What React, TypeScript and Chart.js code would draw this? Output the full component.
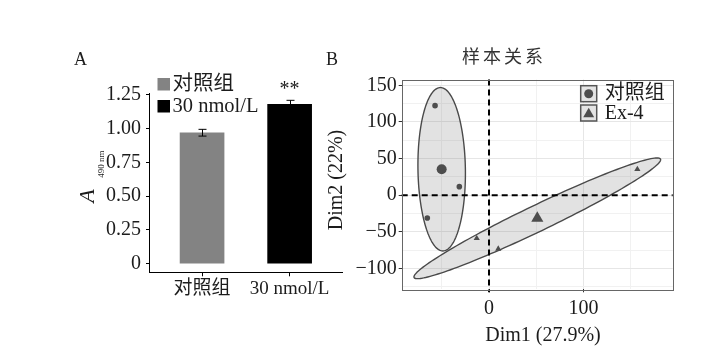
import React, { useEffect, useRef } from "react";
import { Chart, registerables } from "chart.js";

Chart.register(...registerables);

const W = 722;
const H = 361;
const FONT = "'Liberation Serif', 'Noto Sans CJK SC', serif";
const TEXT = "#1c1c1c";
const PT = "#4d4d4d";

// ---------- Panel A data ----------
const groupsA = ["对照组", "30 nmol/L"];
const meansA = [0.97, 1.18];
const errorsA = [0.025, 0.03];
const barColorsA = ["#838383", "#000000"];
const signifA = ["", "**"];
const yTicksA = [0, 0.25, 0.5, 0.75, 1.0, 1.25];
const yTickLabelsA = ["0", "0.25", "0.50", "0.75", "1.00", "1.25"];

// ---------- Panel B data ----------
const titleB = "样本关系";
const groupNamesB = ["对照组", "Ex-4"];
const ctrlDim1 = [-57.1, -31.4, -65.3];
const ctrlDim2 = [122.3, 11.6, -31.1];
const exDim1 = [-13.0, 9.8, 157.0];
const exDim2 = [-58.9, -73.5, 35.4];
const centroidDim1 = [-50.1, 51.1];
const centroidDim2 = [35.4, -31.6];
const ellipseMajorB = [[-1.3, 111.6], [130.4, 80.9]];
const ellipseMinorB = [[25.1, 0.0], [5.96, -16.0]];
const xTicksB = [-50, 0, 50, 100, 150];
const xTickLabelsB = ["", "0", "", "100", ""];
const yTicksB = [-125, -100, -75, -50, -25, 0, 25, 50, 75, 100, 125, 150];
const yTickLabelsB = ["", "−100", "", "−50", "", "0", "", "50", "", "100", "", "150"];

const YAXIS_W = 70;

const panelAPlugin = {
  id: "panelA",
  afterDatasetsDraw(chart: any) {
    const { ctx, chartArea: ca, scales } = chart;
    const x = scales.x;
    const y = scales.y;
    ctx.save();
    ctx.strokeStyle = "#000";
    ctx.lineWidth = 1;
    meansA.forEach((m, i) => {
      const px = Math.round(x.getPixelForValue(i)) + 0.5;
      const top = y.getPixelForValue(m + errorsA[i]);
      const bot = y.getPixelForValue(m - errorsA[i]);
      ctx.beginPath();
      ctx.moveTo(px, top);
      ctx.lineTo(px, bot);
      ctx.moveTo(px - 4, top);
      ctx.lineTo(px + 4, top);
      ctx.moveTo(px - 4, bot);
      ctx.lineTo(px + 4, bot);
      ctx.stroke();
      if (signifA[i]) {
        ctx.font = `20px ${FONT}`;
        ctx.textAlign = "center";
        ctx.textBaseline = "alphabetic";
        ctx.fillStyle = TEXT;
        ctx.fillText(signifA[i], px - 1, top - 5);
      }
    });
    // legend
    const lx = ca.left + 8.5;
    const keyTops = [ca.top - 15.3, ca.top + 6.7];
    ctx.font = `20.5px ${FONT}`;
    ctx.textAlign = "left";
    ctx.textBaseline = "middle";
    groupsA.forEach((g, i) => {
      ctx.fillStyle = barColorsA[i];
      ctx.fillRect(lx, keyTops[i], 12.5, 12.5);
      ctx.fillStyle = TEXT;
      ctx.fillText(g, lx + 15, keyTops[i] + 7);
    });
    // y title: A with subscript 490 nm
    ctx.save();
    ctx.translate(ca.left - 55, (ca.top + ca.bottom) / 2 + 20);
    ctx.rotate(-Math.PI / 2);
    ctx.textBaseline = "alphabetic";
    ctx.textAlign = "left";
    ctx.font = `italic 22px ${FONT}`;
    ctx.fillText("A", 0, 0);
    ctx.font = `9px ${FONT}`;
    ctx.fillText("490 nm", 25, 10);
    ctx.restore();
    // panel letters
    ctx.font = `18px ${FONT}`;
    ctx.textAlign = "left";
    ctx.textBaseline = "alphabetic";
    ctx.fillText("A", 74, 65);
    ctx.fillText("B", 326, 65);
    ctx.restore();
  },
};

const panelBPlugin = {
  id: "panelB",
  beforeDatasetsDraw(chart: any) {
    const { ctx, chartArea: ca, scales } = chart;
    const x = scales.x;
    const y = scales.y;
    ctx.save();
    ctx.beginPath();
    ctx.rect(ca.left, ca.top, ca.width, ca.height);
    ctx.clip();
    for (let g = 0; g < 2; g++) {
      const cx = centroidDim1[g];
      const cy = centroidDim2[g];
      const u = ellipseMajorB[g];
      const v = ellipseMinorB[g];
      ctx.beginPath();
      const n = 160;
      for (let k = 0; k <= n; k++) {
        const t = (2 * Math.PI * k) / n;
        const dx = cx + u[0] * Math.cos(t) + v[0] * Math.sin(t);
        const dy = cy + u[1] * Math.cos(t) + v[1] * Math.sin(t);
        const px = x.getPixelForValue(dx);
        const py = y.getPixelForValue(dy);
        if (k === 0) ctx.moveTo(px, py);
        else ctx.lineTo(px, py);
      }
      ctx.closePath();
      ctx.fillStyle = "rgba(110,110,110,0.2)";
      ctx.fill();
      ctx.strokeStyle = "#4a4a4a";
      ctx.lineWidth = 1.4;
      ctx.stroke();
    }
    ctx.restore();
    // dashed reference lines
    ctx.save();
    ctx.setLineDash([6, 4]);
    ctx.strokeStyle = "#000";
    ctx.lineWidth = 2;
    const x0 = x.getPixelForValue(0);
    const y0 = y.getPixelForValue(0);
    ctx.beginPath();
    ctx.moveTo(x0, ca.top);
    ctx.lineTo(x0, ca.bottom + 3);
    ctx.moveTo(ca.left, y0);
    ctx.lineTo(ca.right, y0);
    ctx.stroke();
    ctx.restore();
  },
  afterDraw(chart: any) {
    const { ctx, chartArea: ca } = chart;
    ctx.save();
    // panel border
    ctx.strokeStyle = "#666";
    ctx.lineWidth = 1;
    ctx.strokeRect(Math.round(ca.left) + 0.5, Math.round(ca.top) + 0.5, Math.round(ca.width), Math.round(ca.height));
    // legend
    const kx = ca.right - 92;
    const keyTops = [ca.top + 6.2, ca.top + 25.5];
    ctx.font = `20px ${FONT}`;
    ctx.textAlign = "left";
    ctx.textBaseline = "middle";
    groupNamesB.forEach((g, i) => {
      const top = keyTops[i];
      ctx.fillStyle = "#e4e4e4";
      ctx.fillRect(kx, top, 16, 16);
      ctx.strokeStyle = "#555";
      ctx.lineWidth = 1.5;
      ctx.strokeRect(kx, top, 16, 16);
      ctx.fillStyle = PT;
      const cx = kx + 8;
      const cy = top + 8;
      ctx.beginPath();
      if (i === 0) {
        ctx.arc(cx, cy, 4.5, 0, Math.PI * 2);
      } else {
        const r = 6.3;
        ctx.moveTo(cx, cy - r + 1);
        ctx.lineTo(cx + r * 0.866, cy + r * 0.5 + 1);
        ctx.lineTo(cx - r * 0.866, cy + r * 0.5 + 1);
        ctx.closePath();
      }
      ctx.fill();
      ctx.fillStyle = TEXT;
      ctx.fillText(g, kx + 24, top + 8.5);
    });
    // title
    ctx.fillStyle = "#333";
    ctx.font = `18px ${FONT}`;
    ctx.textAlign = "center";
    ctx.textBaseline = "middle";
    (ctx as any).letterSpacing = "3px";
    ctx.fillText(titleB, 504, 58.5);
    (ctx as any).letterSpacing = "0px";
    // axis titles
    ctx.fillStyle = TEXT;
    ctx.font = `20px ${FONT}`;
    ctx.fillText("Dim1 (27.9%)", 543, 336);
    ctx.save();
    ctx.translate(337, 180);
    ctx.rotate(-Math.PI / 2);
    ctx.fillText("Dim2 (22%)", 0, 0);
    ctx.restore();
    ctx.restore();
  },
};

function makeConfigA(): any {
  return {
    type: "bar",
    data: {
      datasets: groupsA.map((g, i) => ({
        label: g,
        data: [{ x: i, y: meansA[i] }],
        backgroundColor: barColorsA[i],
        borderWidth: 0,
        barThickness: 44,
      })),
    },
    options: {
      animation: false,
      responsive: false,
      devicePixelRatio: 1,
      layout: { padding: { left: 149 - YAXIS_W, right: W - 342.7, top: 93.3, bottom: H - 272.3 - 30 } },
      datasets: { bar: { grouped: false } },
      plugins: { legend: { display: false }, tooltip: { enabled: false } },
      scales: {
        x: {
          type: "linear",
          offset: false,
          min: -0.606,
          max: 1.606,
          afterBuildTicks: (s: any) => {
            s.ticks = groupsA.map((_, i) => ({ value: i }));
          },
          afterFit: (s: any) => {
            s.height = 30;
          },
          ticks: {
            callback: (_v: any, i: number) => groupsA[i],
            font: { family: FONT, size: 19 },
            color: TEXT,
            padding: 1,
            maxRotation: 0,
            autoSkip: false,
          },
          grid: { offset: false, drawOnChartArea: false, drawTicks: true, tickLength: 4, color: "#000" },
          border: { display: true, color: "#000", width: 1 },
        },
        y: {
          type: "linear",
          min: -0.064,
          max: 1.262,
          afterBuildTicks: (s: any) => {
            s.ticks = yTicksA.map((v) => ({ value: v }));
          },
          afterFit: (s: any) => {
            s.width = YAXIS_W;
          },
          ticks: {
            callback: (_v: any, i: number) => yTickLabelsA[i],
            font: { family: FONT, size: 20 },
            color: TEXT,
            padding: 5,
          },
          grid: { drawOnChartArea: false, drawTicks: true, tickLength: 3, color: "#000" },
          border: { display: true, color: "#000", width: 1 },
        },
      },
    },
    plugins: [panelAPlugin],
  };
}

function makeConfigB(): any {
  const majorX = (v: number) => xTickLabelsB[xTicksB.indexOf(v)] !== "";
  const majorY = (v: number) => yTickLabelsB[yTicksB.indexOf(v)] !== "";
  return {
    type: "scatter",
    data: {
      datasets: [
        {
          label: groupNamesB[0],
          data: ctrlDim1.map((v, i) => ({ x: v, y: ctrlDim2[i] })),
          pointStyle: "circle",
          pointRadius: 2.8,
          backgroundColor: PT,
          borderColor: PT,
          borderWidth: 0,
        },
        {
          label: groupNamesB[1],
          data: exDim1.map((v, i) => ({ x: v, y: exDim2[i] })),
          pointStyle: "triangle",
          pointRadius: 3.6,
          backgroundColor: PT,
          borderColor: PT,
          borderWidth: 0,
        },
        {
          label: groupNamesB[0] + " centroid",
          data: [{ x: centroidDim1[0], y: centroidDim2[0] }],
          pointStyle: "circle",
          pointRadius: 5,
          backgroundColor: PT,
          borderColor: PT,
          borderWidth: 0,
        },
        {
          label: groupNamesB[1] + " centroid",
          data: [{ x: centroidDim1[1], y: centroidDim2[1] }],
          pointStyle: "triangle",
          pointRadius: 7,
          backgroundColor: PT,
          borderColor: PT,
          borderWidth: 0,
        },
      ],
    },
    options: {
      animation: false,
      responsive: false,
      devicePixelRatio: 1,
      layout: { padding: { left: 401.7 - YAXIS_W, right: W - 672.7, top: 79.5, bottom: H - 289.3 - 30 } },
      plugins: { legend: { display: false }, tooltip: { enabled: false } },
      scales: {
        x: {
          type: "linear",
          position: "bottom",
          min: -92.4,
          max: 194.4,
          afterBuildTicks: (s: any) => {
            s.ticks = xTicksB.map((v) => ({ value: v }));
          },
          afterFit: (s: any) => {
            s.height = 30;
          },
          ticks: {
            callback: (_v: any, i: number) => xTickLabelsB[i],
            font: { family: FONT, size: 20 },
            color: TEXT,
            padding: 4,
            maxRotation: 0,
            autoSkip: false,
          },
          grid: {
            drawTicks: true,
            tickLength: 3,
            color: (c: any) => (c.tick && majorX(c.tick.value) ? "#e6e6e6" : "#f1f1f1"),
            tickColor: (c: any) => (c.tick && majorX(c.tick.value) ? "#333" : "rgba(0,0,0,0)"),
          },
          border: { display: false },
        },
        y: {
          type: "linear",
          min: -128.6,
          max: 158,
          afterBuildTicks: (s: any) => {
            s.ticks = yTicksB.map((v) => ({ value: v }));
          },
          afterFit: (s: any) => {
            s.width = YAXIS_W;
          },
          ticks: {
            callback: (_v: any, i: number) => yTickLabelsB[i],
            font: { family: FONT, size: 20 },
            color: TEXT,
            padding: 2,
            autoSkip: false,
          },
          grid: {
            drawTicks: true,
            tickLength: 3,
            color: (c: any) => (c.tick && majorY(c.tick.value) ? "#e6e6e6" : "#f1f1f1"),
            tickColor: (c: any) => (c.tick && majorY(c.tick.value) ? "#333" : "rgba(0,0,0,0)"),
          },
          border: { display: false },
        },
      },
    },
    plugins: [panelBPlugin],
  };
}

export default function App() {
  const refA = useRef<HTMLCanvasElement>(null);
  const refB = useRef<HTMLCanvasElement>(null);
  useEffect(() => {
    const a = new Chart(refA.current as HTMLCanvasElement, makeConfigA());
    const b = new Chart(refB.current as HTMLCanvasElement, makeConfigB());
    return () => {
      a.destroy();
      b.destroy();
    };
  }, []);
  const cs: React.CSSProperties = { position: "absolute", left: 0, top: 0, width: W, height: H };
  return (
    <div style={{ position: "fixed", left: 0, top: 0, width: W, height: H, background: "#fff" }}>
      <canvas ref={refA} width={W} height={H} style={cs} />
      <canvas ref={refB} width={W} height={H} style={cs} />
    </div>
  );
}
